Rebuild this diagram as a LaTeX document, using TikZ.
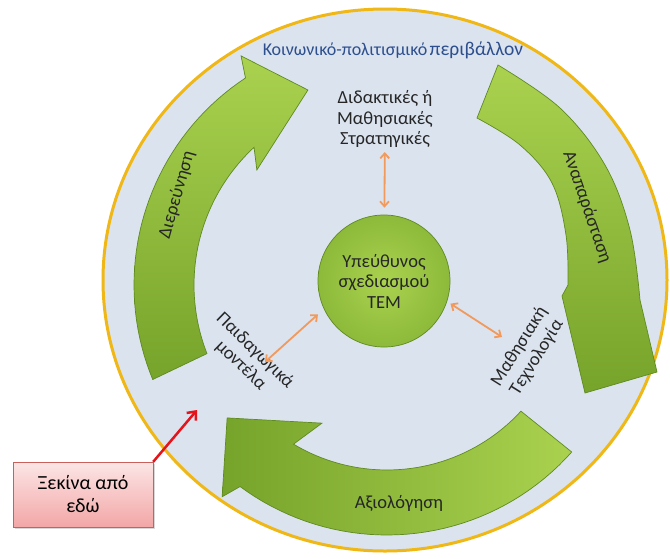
\documentclass[tikz,border=0pt]{standalone}
\usepackage{fontspec}
\setmainfont{Carlito}
\usetikzlibrary{arrows.meta,shadows}
\definecolor{envfill}{HTML}{DBE3EF}
\definecolor{ringcol}{HTML}{F0B816}
\definecolor{greenlight}{HTML}{AAD24F}
\definecolor{greenmid}{HTML}{8DBA3A}
\definecolor{greendark}{HTML}{76A32A}
\definecolor{greenedge}{HTML}{5F8A22}
\definecolor{titleblue}{HTML}{2D4F8E}
\definecolor{linkorange}{HTML}{F29A5C}
\definecolor{startred}{HTML}{E5141B}
\definecolor{boxtop}{HTML}{FCE6E6}
\definecolor{boxbottom}{HTML}{F3A6A6}
\definecolor{boxedge}{HTML}{C9605C}
\begin{document}
\begin{tikzpicture}[x=1pt, y=-1pt,
  bandarrow/.style={draw=greenedge, line width=0.7pt},
  lbl/.style={font=\fontsize{18.5}{20.5}\selectfont, align=center, text=black!85},
  link/.style={draw=linkorange, line width=1.8pt,
    {Straight Barb[length=5pt,width=9pt]}-{Straight Barb[length=5pt,width=9pt]}},
]
\useasboundingbox (0,0) rectangle (670,558);
\fill[white] (0,0) rectangle (670,558);

% socio-cultural environment
\path[fill=envfill, draw=ringcol, line width=3pt] (385,280) ellipse [x radius=282pt, y radius=271pt];

% exploration arrow (left, rising)
\begin{scope}[shift={(382,285)}, x=1pt, y=1pt]
\path[bandarrow, top color=greenlight, bottom color=greendark]
  plot[domain=202.4:123.4, samples=40] (\x:248) -- (121.6:269) -- (110.8:208.6)
  -- (137.4:170) -- (132.9:188)
  -- plot[domain=132.9:201.4, samples=40] (\x:188) -- cycle;
\end{scope}

% evaluation arrow (bottom, running left)
\begin{scope}[shift={(387,288)}, x=1pt, y=1pt]
\path[bandarrow, left color=greendark, right color=greenlight]
  plot[domain=-41.6:-126.5, samples=40] (\x:247) -- (-128.3:266) -- (-140.9:206)
  -- (-115.7:150) -- (-120.9:182)
  -- plot[domain=-120.9:-42.6, samples=40] (\x:182) -- cycle;
\end{scope}

% representation arrow (right, descending)
\path[bandarrow, top color=greenlight, bottom color=greendark]
  plot[smooth, tension=0.6] coordinates {(498,65) (560,108) (605,165) (630,230) (640,300)}
  -- (657,372) -- (585,393) -- (562,296)
  -- plot[smooth, tension=0.6] coordinates {(568,285) (566,235) (552,183) (520,145) (477,118)}
  -- cycle;

% labels
\node[text=titleblue, inner sep=0pt] (envtitle) at (393,50)
  {{\fontsize{18}{20}\selectfont Κοινωνικό-πολιτισμικό} {\fontsize{19.5}{20}\selectfont περιβάλλον}};
\node[lbl, rotate=74] (explore) at (177,195) {Διερεύνηση};
\node[lbl, rotate=-71] (represent) at (587,207) {Αναπαράσταση};
\node[lbl] (evaluate) at (399,503) {Αξιολόγηση};
\node[lbl] (strat) at (385,119) {Διδακτικές ή\\Μαθησιακές\\Στρατηγικές};
\node[lbl, circle, minimum size=132pt, inner sep=0pt, draw=greenedge, line width=0.7pt,
      inner color=greenlight, outer color=greenmid] (tem) at (384,281)
  {Υπεύθυνος\\σχεδιασμού\\ΤΕΜ};
\node[lbl, rotate=-44] (pedag) at (248,358) {Παιδαγωγικά\\μοντέλα};
\node[lbl, rotate=58] (techn) at (528,352) {Μαθησιακή\\Τεχνολογία};

% links to the designer
\coordinate (pedaglink) at (265,362);
\coordinate (technlink) at (502,337);
\draw[link, shorten <=1pt, shorten >=7pt] (strat) -- (tem);
\draw[link, shorten >=8pt] (pedaglink) -- (tem.205);
\draw[link, shorten <=4pt] (tem.-18) -- (technlink);

% starting point
\node[draw=boxedge, top color=boxtop, bottom color=boxbottom, drop shadow={opacity=0.3},
      minimum width=140pt, minimum height=65pt, font=\fontsize{20}{23}\selectfont,
      align=center] (start) at (83,494.5) {Ξεκίνα από\\εδώ};
\coordinate (startaim) at (197,410);
\draw[startred, line width=2.5pt, -{Straight Barb[length=7pt,width=12pt]}] (start.north east) -- (startaim);
\end{tikzpicture}
\end{document}
